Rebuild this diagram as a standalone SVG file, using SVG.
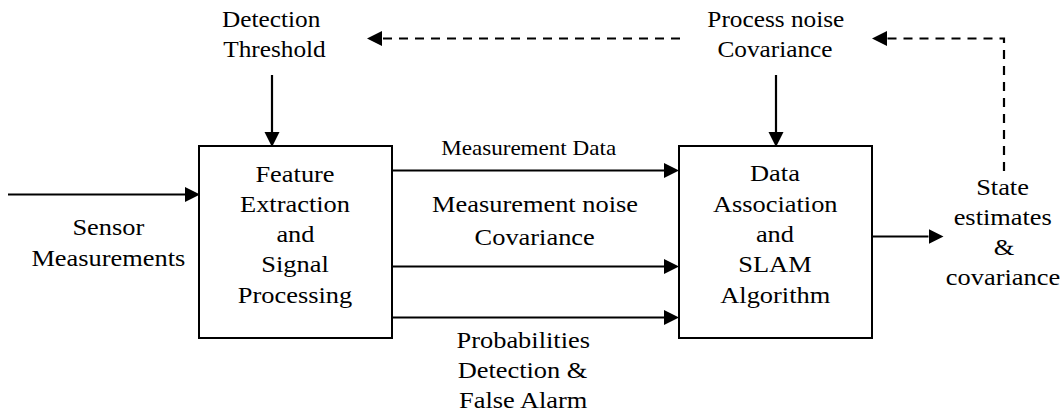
<svg xmlns="http://www.w3.org/2000/svg" width="1063" height="414" viewBox="0 0 1063 414">
  <style>
    .box { fill: #ffffff; stroke: #000000; stroke-width: 2; }
    .wire { fill: none; stroke: #000000; stroke-width: 2.2; marker-end: url(#head); }
    .dash { stroke-dasharray: 9 7; }
  </style>
  <defs>
    <marker id="head" markerUnits="userSpaceOnUse" markerWidth="15" markerHeight="16" refX="0" refY="7.5" orient="auto">
      <path d="M0,0 L15,7.5 L0,15 z" fill="#000000"/>
    </marker>
  </defs>

  <rect width="1063" height="414" fill="#ffffff"/>

  <!-- connectors: solid feeds and the dashed feedback path -->
  <g id="connectors">
    <line class="wire" x1="8" y1="194.5" x2="185" y2="194.5"/>
    <line class="wire" x1="272" y1="75" x2="272" y2="132"/>
    <line class="wire" x1="776" y1="75" x2="776" y2="132"/>
    <line class="wire" x1="392" y1="170.5" x2="664" y2="170.5"/>
    <line class="wire" x1="392" y1="266.5" x2="664" y2="266.5"/>
    <line class="wire" x1="392" y1="317.5" x2="664" y2="317.5"/>
    <line class="wire" x1="872" y1="236.5" x2="928.5" y2="236.5"/>
    <polyline class="wire dash" points="1004,171 1004,38.5 887,38.5"/>
    <line class="wire dash" x1="680" y1="38.5" x2="382" y2="38.5"/>
  </g>

  <!-- text is set in a slightly widened serif: x values are in the scaled space (x / 1.1) -->
  <g id="sensor-input">
    <g transform="scale(1.1 1)" font-family="Liberation Serif" font-size="24" text-anchor="middle" fill="#000000">
      <text x="98.5" y="235">Sensor</text>
      <text x="98.5" y="266">Measurements</text>
    </g>
  </g>

  <g id="detection-threshold">
    <g transform="scale(1.1 1)" font-family="Liberation Serif" font-size="23" text-anchor="middle" fill="#000000">
      <text x="246.5" y="27">Detection</text>
      <text x="249.5" y="57">Threshold</text>
    </g>
  </g>

  <g id="process-noise">
    <g transform="scale(1.1 1)" font-family="Liberation Serif" font-size="23" text-anchor="middle" fill="#000000">
      <text x="705.3" y="27">Process noise</text>
      <text x="704.5" y="57">Covariance</text>
    </g>
  </g>

  <g id="feature-extraction">
    <rect class="box" x="199" y="146" width="193" height="192"/>
    <g transform="scale(1.1 1)" font-family="Liberation Serif" font-size="24" text-anchor="middle" fill="#000000">
      <text x="268.2" y="182">Feature</text>
      <text x="268.2" y="212">Extraction</text>
      <text x="268.6" y="242">and</text>
      <text x="268.2" y="272">Signal</text>
      <text x="268.2" y="303">Processing</text>
    </g>
  </g>

  <g id="data-association">
    <rect class="box" x="679" y="146" width="193" height="192"/>
    <g transform="scale(1.1 1)" font-family="Liberation Serif" font-size="24" text-anchor="middle" fill="#000000">
      <text x="704.5" y="181">Data</text>
      <text x="704.8" y="212">Association</text>
      <text x="704.5" y="242">and</text>
      <text x="704.5" y="272">SLAM</text>
      <text x="704.8" y="303">Algorithm</text>
    </g>
  </g>

  <g id="link-labels">
    <g transform="scale(1.1 1)" font-family="Liberation Serif" font-size="24" text-anchor="middle" fill="#000000">
      <text x="480.6" y="155" font-size="21">Measurement Data</text>
      <text x="486.4" y="212">Measurement noise</text>
      <text x="486.1" y="245">Covariance</text>
      <text x="475.7" y="348">Probabilities</text>
      <text x="475" y="378">Detection &amp;</text>
      <text x="475.7" y="408">False Alarm</text>
    </g>
  </g>

  <g id="state-output">
    <g transform="scale(1.1 1)" font-family="Liberation Serif" font-size="24" text-anchor="middle" fill="#000000">
      <text x="911.4" y="195">State</text>
      <text x="911.6" y="225">estimates</text>
      <text x="912.7" y="255">&amp;</text>
      <text x="911.8" y="285">covariance</text>
    </g>
  </g>
</svg>
